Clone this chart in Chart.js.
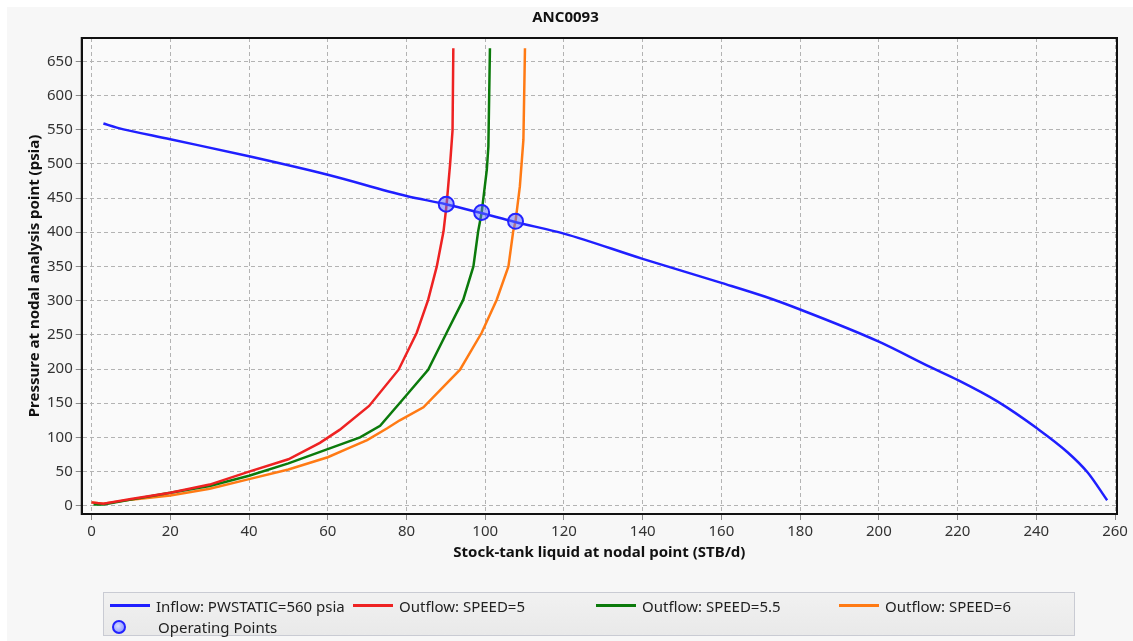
<!DOCTYPE html>
<html>
<head>
<meta charset="utf-8">
<title>ANC0093</title>
<script src="https://cdn.jsdelivr.net/npm/chart.js@4.4.1/dist/chart.umd.min.js"></script>
<style>
  html, body { margin: 0; padding: 0; background: #fff; }
  body { width: 1133px; height: 641px; position: relative; overflow: hidden; font-family: "Noto Sans", sans-serif; }
  .panel { position: absolute; left: 7px; top: 7px; right: 0; bottom: 0; background: #f7f7f7; }
  #nodal { position: absolute; left: 0; top: 0; }
  #legend {
    position: absolute; left: 103px; top: 592px; width: 972px; height: 44px;
    box-sizing: border-box; border: 1px solid #c9cbd3;
    background: linear-gradient(#f1f1f1, #e9e9e9);
    display: grid; grid-template-columns: repeat(4, 243px); grid-auto-rows: 21px;
    padding: 2px 0 0 6px; font-size: 15px; color: #222;
  }
  .item { display: flex; align-items: center; white-space: nowrap; }
  .swatch { width: 40px; height: 3px; margin-right: 6px; flex: none; }
  .dot {
    width: 10px; height: 10px; border-radius: 50%; border: 2px solid #2222ff; margin: 0 32px 0 2px;
    background: radial-gradient(circle at 40% 40%, #d8dcff, #7f8aff); flex: none;
  }
</style>
</head>
<body>
<div class="panel"></div>
<canvas id="nodal" width="1133" height="641"></canvas>
<div id="legend"></div>
<script>
const TITLE = "ANC0093";
const X_TITLE = "Stock-tank liquid at nodal point (STB/d)";
const Y_TITLE = "Pressure at nodal analysis point (psia)";
const X_TICKS = [0, 20, 40, 60, 80, 100, 120, 140, 160, 180, 200, 220, 240, 260];
const Y_TICKS = [0, 50, 100, 150, 200, 250, 300, 350, 400, 450, 500, 550, 600, 650];

// inflow (IPR)
const inflowQ = [3, 6.4, 20, 40, 60, 80, 90, 99, 107.6, 120, 140, 160, 171, 180, 200, 213, 220, 230, 240, 248, 253, 258];
const inflowP = [559, 553, 536, 511, 484, 453, 441, 428, 415, 398, 361, 326, 306, 287, 240, 203, 184, 153, 114, 78, 49, 8];

// outflow, SPEED=5
const speed5Q = [0, 3, 10, 20, 30, 40, 50, 58, 63, 70.5, 78, 82.6, 85.5, 87.7, 89.4, 90.2, 91.1, 91.7, 91.9];
const speed5P = [5, 3, 10, 19, 31, 50, 68, 92, 111, 146, 199, 253, 301, 350, 401, 441, 501, 549, 669];

// outflow, SPEED=5.5
const speed55Q = [0.5, 3, 10, 20, 30, 40, 50, 60.5, 68.2, 73.3, 79, 85.5, 90.2, 94.4, 97, 98.2, 99.1, 100.4, 100.8, 101.2];
const speed55P = [2, 2, 9, 19, 29, 44, 62, 84, 100, 117, 155, 199, 253, 301, 350, 401, 429, 491, 525, 669];

// outflow, SPEED=6
const speed6Q = [0, 3, 10, 20, 30, 40, 50, 60, 65.6, 70, 75, 78.3, 84.3, 93.6, 99.1, 102.9, 105.9, 107.1, 107.7, 108.8, 109.7, 110.1];
const speed6P = [5, 3, 9, 15, 25, 39, 53, 71, 85, 96, 113, 125, 144, 199, 253, 301, 350, 401, 416, 467, 535, 669];

// operating points
const opQ = [90.1, 99.1, 107.7];
const opP = [441, 429, 416];

function toPoints(xs, ys) {
  return xs.map((x, i) => ({ x: x, y: ys[i] }));
}

function lineSet(label, xs, ys, color, smooth) {
  return {
    label: label,
    data: toPoints(xs, ys),
    showLine: true,
    borderColor: color,
    backgroundColor: color,
    borderWidth: 2.5,
    pointRadius: 0,
    tension: 0,
    cubicInterpolationMode: smooth ? "monotone" : "default",
  };
}

const plotFrame = {
  id: "plotFrame",
  beforeDraw(chart) {
    const a = chart.chartArea;
    const ctx = chart.ctx;
    ctx.save();
    ctx.fillStyle = "#fafafa";
    ctx.fillRect(a.left, a.top, a.right - a.left, a.bottom - a.top);
    ctx.restore();
  },
  afterDraw(chart) {
    const a = chart.chartArea;
    const ctx = chart.ctx;
    ctx.save();
    ctx.strokeStyle = "#111";
    ctx.lineWidth = 2;
    ctx.strokeRect(a.left, a.top, a.right - a.left, a.bottom - a.top);
    ctx.restore();
  },
};

function buildLegend(chart) {
  const box = document.getElementById("legend");
  chart.data.datasets.forEach((ds) => {
    const item = document.createElement("div");
    item.className = "item";
    const mark = document.createElement("span");
    if (ds.showLine) {
      mark.className = "swatch";
      mark.style.background = ds.borderColor;
    } else {
      mark.className = "dot";
    }
    item.appendChild(mark);
    item.appendChild(document.createTextNode(ds.label));
    box.appendChild(item);
  });
}

function createChart() {
  Chart.defaults.font.family = "'Noto Sans', sans-serif";
  Chart.defaults.font.size = 15;
  Chart.defaults.color = "#333";

  const ctx = document.getElementById("nodal").getContext("2d");
  return new Chart(ctx, {
    type: "scatter",
    data: {
      datasets: [
        lineSet("Inflow: PWSTATIC=560 psia", inflowQ, inflowP, "#1f1fff", true),
        lineSet("Outflow: SPEED=5", speed5Q, speed5P, "#ee2222", false),
        lineSet("Outflow: SPEED=5.5", speed55Q, speed55P, "#0b7a0b", false),
        lineSet("Outflow: SPEED=6", speed6Q, speed6P, "#ff7a14", false),
        {
          label: "Operating Points",
          data: toPoints(opQ, opP),
          showLine: false,
          order: -1,
          pointRadius: 7.5,
          pointBorderWidth: 2,
          pointBorderColor: "#2323ff",
          pointBackgroundColor: "rgba(90, 105, 255, 0.5)",
        },
      ],
    },
    options: {
      responsive: false,
      animation: false,
      layout: { padding: { left: 14, right: 16, top: 0, bottom: 78 } },
      plugins: {
        legend: { display: false },
        tooltip: { enabled: false },
        title: {
          display: true,
          text: TITLE,
          color: "#111",
          font: { size: 15, weight: "bold" },
          padding: { top: 9, bottom: 11 },
        },
      },
      scales: {
        x: {
          type: "linear",
          min: -2.5,
          max: 260.5,
          afterBuildTicks: (scale) => {
            scale.ticks = X_TICKS.map((v) => ({ value: v }));
          },
          ticks: { padding: 3, maxRotation: 0, autoSkip: false, color: "#333" },
          grid: { color: "#b3b3b3", lineWidth: 1, tickLength: 6, tickColor: "#888" },
          border: { dash: [4, 3], color: "#111", width: 2 },
          title: {
            display: true,
            text: X_TITLE,
            color: "#111",
            font: { size: 15, weight: "bold" },
            padding: { top: 0, bottom: 1 },
          },
        },
        y: {
          type: "linear",
          min: -12,
          max: 684,
          afterBuildTicks: (scale) => {
            scale.ticks = Y_TICKS.map((v) => ({ value: v }));
          },
          ticks: { padding: 3, autoSkip: false, color: "#333" },
          grid: { color: "#b3b3b3", lineWidth: 1, tickLength: 6, tickColor: "#888" },
          border: { dash: [4, 3], color: "#111", width: 2 },
          title: {
            display: true,
            text: Y_TITLE,
            color: "#111",
            font: { size: 15, weight: "bold" },
            padding: { top: 12, bottom: 0 },
          },
        },
      },
    },
    plugins: [plotFrame],
  });
}

function init() {
  const chart = createChart();
  buildLegend(chart);
}

init();
</script>
</body>
</html>
